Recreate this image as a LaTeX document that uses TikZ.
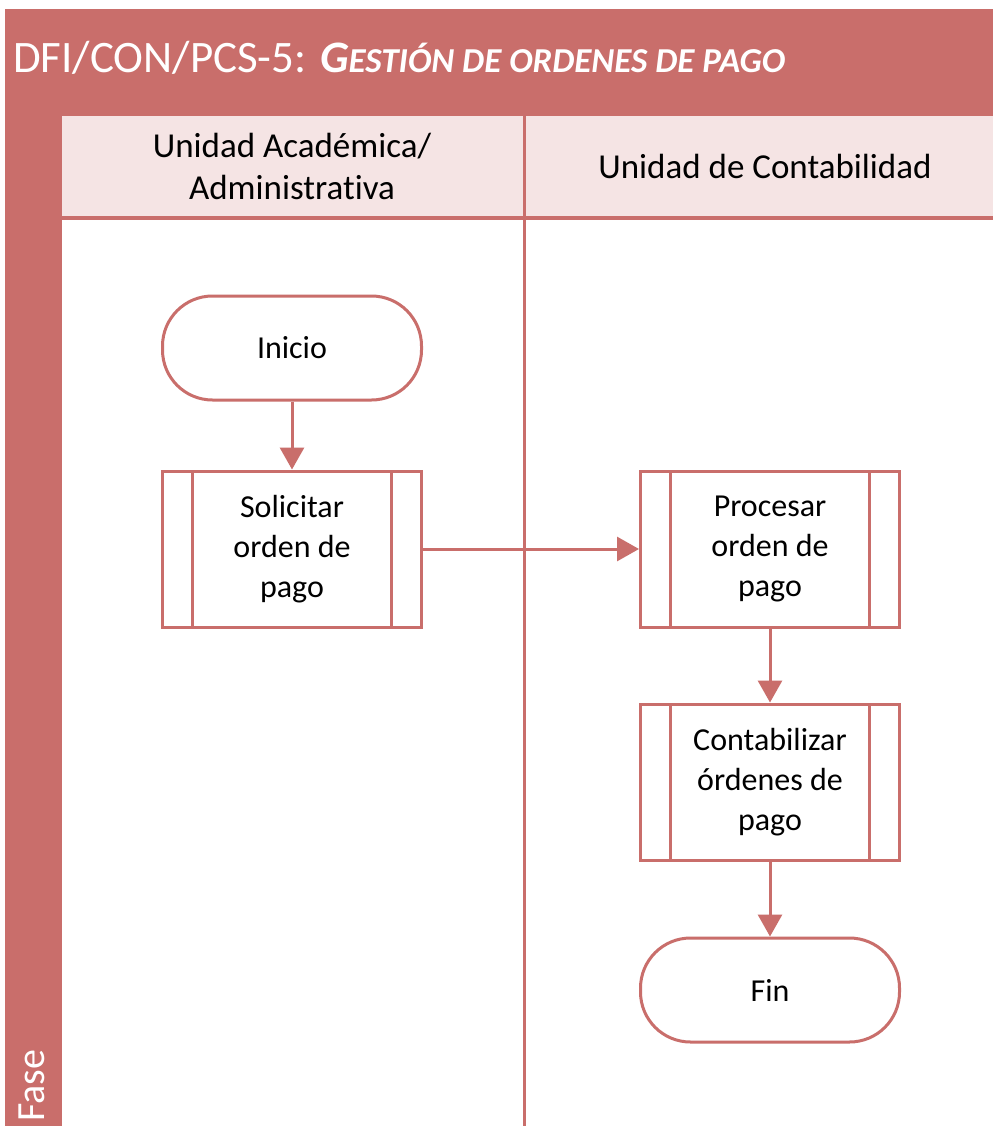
\documentclass[tikz,border=0pt]{standalone}
\usepackage{fontspec}
\setmainfont{Carlito}[Ligatures = NoCommon]
\usetikzlibrary{arrows.meta,positioning}

\definecolor{fase}{HTML}{C96E6B}
\definecolor{cabecera}{HTML}{F5E4E4}

\begin{document}
\begin{tikzpicture}[x = 1pt, y = -1pt,
  flecha/.style   = {draw = fase, line width = 3pt, -{Triangle[length = 22pt, width = 24pt]}},
  terminal/.style = {draw = fase, line width = 3pt, fill = white, rounded corners = 50pt,
                     minimum width = 259pt, minimum height = 104pt,
                     font = \fontsize{32}{40}\selectfont},
  proceso/.style  = {draw = fase, line width = 3pt, fill = white, align = center,
                     minimum width = 259pt, minimum height = 156pt,
                     font = \fontsize{32}{40}\selectfont,
                     path picture = {
                       \draw[fase, line width = 3pt]
                         ([xshift = 30pt]path picture bounding box.north west) --
                         ([xshift = 30pt]path picture bounding box.south west);
                       \draw[fase, line width = 3pt]
                         ([xshift = -30pt]path picture bounding box.north east) --
                         ([xshift = -30pt]path picture bounding box.south east);
                     }},
  carril/.style   = {align = center, font = \fontsize{35}{42}\selectfont}
]

  \useasboundingbox (0,0) rectangle (993,1126);

  % Frame of the pool
  \fill[fase] (5,9) rectangle (993,1126);
  \fill[cabecera] (62,116) rectangle (523,216);
  \fill[cabecera] (526,116) rectangle (993,216);
  \fill[white] (62,220) rectangle (993,1126);
  \draw[fase, line width = 3pt] (524.5,216) -- (524.5,1126);

  \node[anchor = base west, text = white, inner sep = 0pt, font = \fontsize{45}{48}\selectfont] (titulo) at (13,73)
    {DFI/CON/PCS-5: \textbf{\textit{G{\fontsize{35}{38}\selectfont ESTIÓN DE ORDENES DE PAGO}}}};
  \node[rotate = 90, anchor = west, text = white, font = \fontsize{40}{42}\selectfont] (etiqueta) at (32,1125) {Fase};

  % Lanes
  \node[carril] (unidad)   at (292,166) {Unidad Académica/\\Administrativa};
  \node[carril] (contab)   at (765,166) {Unidad de Contabilidad};

  % Steps
  \node[terminal] (inicio)   at (292,348) {Inicio};
  \node[proceso]  (solicitar) at (292,549) {Solicitar\\orden de\\pago};
  \node[proceso]  (procesar)  at (770,549) {Procesar\\orden de\\pago};
  \node[proceso]  (contabilizar) at (770,782) {Contabilizar\\órdenes de\\pago};
  \node[terminal] (fin)      at (770,990) {Fin};

  \draw[flecha] (inicio) -- (solicitar);
  \draw[flecha] (solicitar) -- (procesar);
  \draw[flecha] (procesar) -- (contabilizar);
  \draw[flecha] (contabilizar) -- (fin);

\end{tikzpicture}
\end{document}
